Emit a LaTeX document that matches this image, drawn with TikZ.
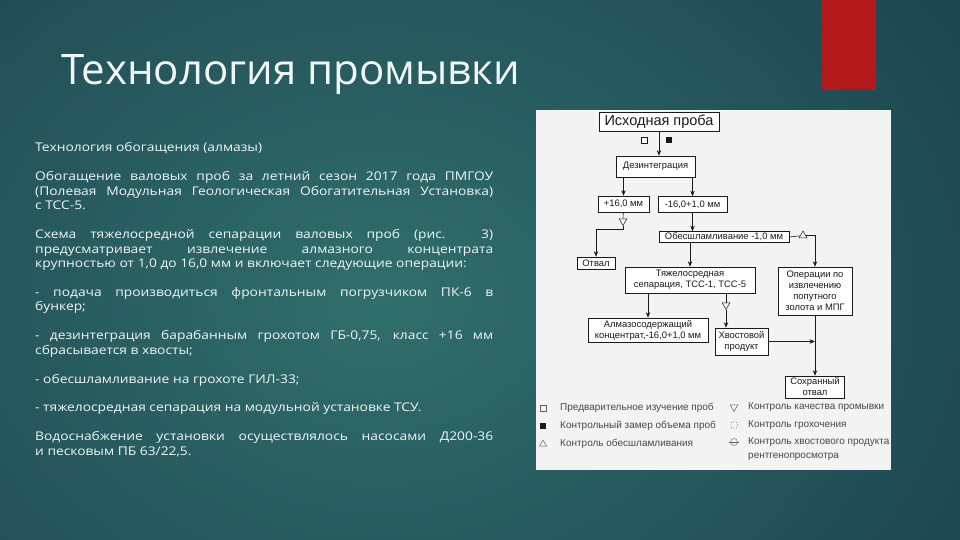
\documentclass[tikz,border=0pt]{standalone}
\usepackage{fontspec}
\setmainfont{Open Sans}
\newfontfamily\titlefont{Open Sans}
\newfontfamily\bodyfont{Open Sans}[FakeStretch=1.15]
\newfontfamily\chartfont{Liberation Sans}
\usetikzlibrary{arrows.meta,positioning,calc,shapes.geometric}
\definecolor{BgDark}{HTML}{173847}
\definecolor{BgLight}{HTML}{306F6C}
\definecolor{Banner}{HTML}{B3191B}
\definecolor{Paper}{HTML}{F3F3F3}
\definecolor{Ink}{HTML}{1A1A1A}
\definecolor{Slide}{HTML}{F2F5F5}

\begin{document}
\begin{tikzpicture}[x=1pt,y=-1pt,>={Stealth[length=5.5pt,width=4.4pt]},
  box/.style={draw=Ink,line width=0.6pt,fill=white,inner sep=0.5pt,align=center,text=Ink,font=\chartfont\fontsize{9.4}{11}\selectfont},
  flow/.style={->,Ink,line width=0.6pt},
  link/.style={Ink,line width=0.6pt},
  qmark/.style={regular polygon,regular polygon sides=3,draw=Ink,fill=Paper,line width=0.5pt,inner sep=0pt,minimum size=9pt},
  legtext/.style={anchor=west,inner sep=0pt,text=Ink!80,font=\chartfont\fontsize{10}{11}\selectfont}]
\useasboundingbox (0,0) rectangle (960,540);
\fill[BgDark] (0,0) rectangle (960,540);
\begin{scope}
\clip (0,0) rectangle (960,540);
\shade[inner color=BgLight,outer color=BgDark] (380,300) ellipse (900 and 700);
\end{scope}
\fill[Banner] (822,0) rectangle (876,90);

\node[anchor=base west,inner sep=0pt,text=Slide,font=\titlefont\fontsize{42}{46}\selectfont] (title) at (61,85) {Технология промывки};

\node[anchor=base west,inner sep=0pt,text width=458pt,align=justify,text=Slide,font=\bodyfont\fontsize{12}{14.5}\selectfont] (body) at (35,152) {\setlength{\parskip}{14.3pt}%
Технология обогащения (алмазы)\par
Обогащение валовых проб за летний сезон 2017 года ПМГОУ\linebreak (Полевая Модульная Геологическая Обогатительная Установка)\linebreak с ТСС-5.\par
Схема тяжелосредной сепарации валовых проб (рис. 3)\linebreak предусматривает извлечение алмазного концентрата\linebreak крупностью от 1,0 до 16,0 мм и включает следующие операции:\par
- подача производиться фронтальным погрузчиком ПК-6 в\linebreak бункер;\par
- дезинтеграция барабанным грохотом ГБ-0,75, класс +16 мм\linebreak сбрасывается в хвосты;\par
- обесшламливание на грохоте ГИЛ-33;\par
- тяжелосредная сепарация на модульной установке ТСУ.\par
Водоснабжение установки осуществлялось насосами Д200-36\linebreak и песковым ПБ 63/22,5.};

\fill[Paper] (536,110) rectangle (891,470);
\node[box,font=\chartfont\fontsize{14.5}{16}\selectfont,minimum width=120pt,minimum height=19pt] (src) at (659,121.5) {Исходная проба};
\node[box,minimum width=79pt,minimum height=21pt] (dez) at (655.5,166.5) {Дезинтеграция};
\node[box,minimum width=51pt,minimum height=16pt] (big) at (623.5,204) {+16,0 мм};
\node[box,minimum width=69pt,minimum height=16pt] (fine) at (692.5,204.5) {-16,0+1,0 мм};
\node[box,minimum width=130pt,minimum height=11pt] (desl) at (724,237) {Обесшламливание -1,0 мм};
\node[box,minimum width=38pt,minimum height=12pt] (dump) at (596,263) {Отвал};
\node[box,minimum width=130pt,minimum height=26pt] (hms) at (690,280) {Тяжелосредная\\сепарация, ТСС-1, ТСС-5};
\node[box,minimum width=74pt,minimum height=48pt] (gold) at (815,291) {Операции по\\извлечению\\попутного\\золота и МПГ};
\node[box,minimum width=120pt,minimum height=24pt] (conc) at (648,330) {Алмазосодержащий\\концентрат,-16,0+1,0 мм};
\node[box,minimum width=53pt,minimum height=27pt] (tail) at (741.5,341.5) {Хвостовой\\продукт};
\node[box,minimum width=59pt,minimum height=22pt] (kept) at (815,387) {Сохранный\\отвал};

\node[draw=Ink,fill=white,line width=0.5pt,inner sep=0pt,minimum size=6pt] (pre) at (644,140) {};
\node[fill=Ink,inner sep=0pt,minimum size=6pt] (vol) at (669,140) {};
\node[qmark,shape border rotate=180] (q1) at (623,221) {};
\node[qmark] (q2) at (803,235.5) {};
\node[qmark,shape border rotate=180] (q3) at (726,305) {};
\coordinate (kink) at (623,229);
\coordinate (merge) at (gold.south |- tail.east);

\draw[flow] (src.south) -- (src.south |- dez.north);
\draw[flow] (big.north |- dez.south) -- (big.north);
\draw[flow] (fine.north |- dez.south) -- (fine.north);
\draw[link] (big) -- (q1);
\draw[flow] (q1) -- (kink) -| (dump.north);
\draw[flow] (fine.south) -- (fine.south |- desl.north);
\draw[link] (desl.east) -- (q2);
\draw[flow] (q2) -| (gold.north);
\draw[flow] (hms.north |- desl.south) -- (hms.north);
\draw[flow] (conc.north |- hms.south) -- (conc.north);
\draw[link] (q3 |- hms.south) -- (q3);
\draw[flow] (q3) -- (q3 |- tail.north);
\draw[flow] (tail.east) -- (merge);
\draw[flow] (gold.south) -- (kept.north);

\begin{scope}
\clip (536,110) rectangle (891,470);
\node[draw=Ink!70,line width=0.4pt,inner sep=0pt,minimum size=6pt] (lg1) at (543,408) {};
\node[fill=Ink,inner sep=0pt,minimum size=6pt] (lg2) at (543,426) {};
\node[qmark,draw=Ink!70,minimum size=8pt] (lg3) at (543,444) {};
\node[qmark,draw=Ink!70,minimum size=9pt,shape border rotate=180] (lg4) at (734,407) {};
\node[circle,draw=Ink!70,dotted,line width=0.6pt,inner sep=0pt,minimum size=7pt] (lg5) at (734,425) {};
\node[circle,draw=Ink!70,line width=0.4pt,inner sep=0pt,minimum size=7pt] (lg6) at (734,442) {};
\draw[Ink!70,line width=0.4pt] ([xshift=-1pt]lg6.west) -- ([xshift=1pt]lg6.east);
\node[legtext] (lt1) at (560,408) {Предварительное изучение проб};
\node[legtext] (lt2) at (560,426) {Контрольный замер объема проб};
\node[legtext] (lt3) at (560,444) {Контроль обесшламливания};
\node[legtext] (lt4) at (748,407) {Контроль качества промывки};
\node[legtext] (lt5) at (748,425) {Контроль грохочения};
\node[legtext] (lt6) at (748,442) {Контроль хвостового продукта};
\node[legtext] (lt7) at (748,457) {рентгенопросмотра};
\end{scope}
\end{tikzpicture}
\end{document}
